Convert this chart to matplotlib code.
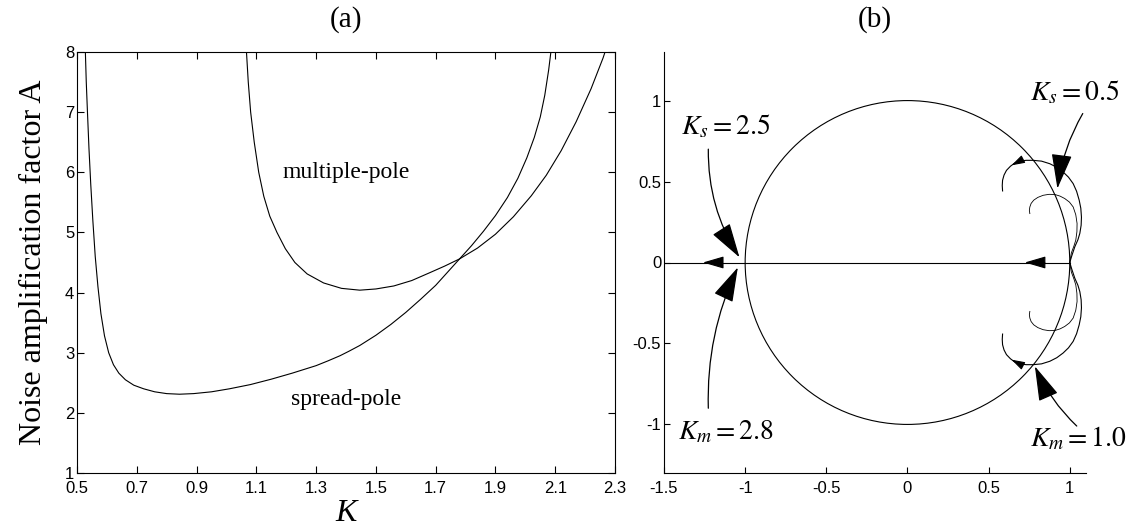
import numpy as np
import matplotlib
matplotlib.use("Agg")
import matplotlib.pyplot as plt
from matplotlib.patches import Circle

plt.rcParams['font.family'] = ['Liberation Sans', 'DejaVu Sans']
plt.rcParams['mathtext.fontset'] = 'stix'

# (a) noise amplification factor vs K
k_spread = [0.528, 0.531, 0.535, 0.540, 0.546, 0.553, 0.561, 0.570, 0.580, 0.592, 0.606, 0.622,
            0.640, 0.662, 0.690, 0.723, 0.76, 0.80, 0.843, 0.89, 0.95, 1.01, 1.08, 1.15,
            1.22, 1.30, 1.34, 1.38, 1.41, 1.446, 1.50, 1.55, 1.60, 1.65, 1.70, 1.74, 1.78, 1.82,
            1.86, 1.90, 1.94, 1.975, 2.005, 2.03, 2.05, 2.065, 2.078, 2.088]
a_spread = [8.0, 7.5, 7.0, 6.4, 5.8, 5.2, 4.6, 4.1, 3.65, 3.28, 3.0, 2.8,
            2.66, 2.55, 2.46, 2.40, 2.35, 2.32, 2.31, 2.32, 2.35, 2.40, 2.47, 2.56,
            2.66, 2.785, 2.865, 2.95, 3.025, 3.12, 3.29, 3.47, 3.67, 3.89, 4.12, 4.34, 4.56, 4.78,
            5.02, 5.28, 5.58, 5.90, 6.24, 6.58, 6.92, 7.28, 7.70, 8.10]
k_multi = [1.067, 1.073, 1.081, 1.093, 1.108, 1.125, 1.145, 1.169, 1.197, 1.229, 1.27, 1.325,
           1.385, 1.446, 1.50, 1.56, 1.62, 1.68, 1.73, 1.78, 1.84, 1.90, 1.96, 2.02,
           2.07, 2.12, 2.17, 2.22, 2.26, 2.27]
a_multi = [8.0, 7.5, 7.0, 6.5, 6.0, 5.6, 5.27, 5.0, 4.73, 4.5, 4.31, 4.16,
           4.07, 4.04, 4.06, 4.11, 4.20, 4.33, 4.44, 4.56, 4.74, 4.97, 5.26, 5.61,
           5.95, 6.36, 6.84, 7.39, 7.90, 8.05]

k_ticks = [0.5, 0.7, 0.9, 1.1, 1.3, 1.5, 1.7, 1.9, 2.1, 2.3]
a_ticks = [1, 2, 3, 4, 5, 6, 7, 8]

# (b) pole loci in the z-plane
circle_center = (0.0, 0.0)
circle_radius = 1.0
real_axis_x = [-1.5, 1.0]
real_axis_y = [0.0, 0.0]
outer_x = [1.0, 1.012, 1.031, 1.05, 1.062, 1.07, 1.072, 1.068, 1.058, 1.042, 1.021, 0.992,
           0.959, 0.92, 0.877, 0.826, 0.774, 0.732, 0.692, 0.661, 0.635, 0.61, 0.595, 0.586,
           0.584, 0.586]
outer_y = [0.0, 0.04, 0.097, 0.14, 0.18, 0.23, 0.28, 0.335, 0.385, 0.44, 0.487, 0.527,
           0.559, 0.588, 0.61, 0.626, 0.631, 0.631, 0.627, 0.614, 0.595, 0.569, 0.54, 0.508,
           0.475, 0.442]
inner_x = [1.0, 1.005, 1.01, 1.025, 1.037, 1.044, 1.045, 1.037, 1.021, 0.998, 0.969, 0.94,
           0.908, 0.872, 0.836, 0.803, 0.778, 0.762, 0.754, 0.751, 0.754]
inner_y = [0.0, 0.03, 0.06, 0.10, 0.138, 0.19, 0.241, 0.295, 0.343, 0.373, 0.395, 0.41,
           0.42, 0.421, 0.415, 0.402, 0.385, 0.365, 0.343, 0.322, 0.302]

# small direction arrows: (tail, head)
axis_arrows = [((-1.143, 0.0), (-1.26, 0.0)), ((0.846, 0.0), (0.723, 0.0))]
loop_arrows = [((0.692, 0.627), (0.641, 0.6)), ((0.692, -0.627), (0.641, -0.6))]

# labelled arrows: (text, text position, tail, head, curvature)
notes = [
    (r'$K_s = 2.5$', (-1.12, 0.84), (-1.227, 0.70), (-1.035, 0.032), 0.15),
    (r'$K_m = 2.8$', (-1.12, -1.05), (-1.227, -0.90), (-1.045, -0.030), -0.12),
    (r'$K_s = 0.5$', (1.03, 1.05), (1.08, 0.92), (0.924, 0.457), 0.1),
    (r'$K_m = 1.0$', (1.05, -1.09), (1.043, -1.01), (0.785, -0.641), -0.1),
]

fig = plt.figure(figsize=(11.28, 5.29), dpi=100)
ax1 = fig.add_axes([77 / 1128, 56 / 529, 538 / 1128, 421 / 529])
ax2 = fig.add_axes([664 / 1128, 56 / 529, 422 / 1128, 421 / 529])

serif = 'Liberation Serif'

ax1.plot(k_spread, a_spread, color='k', lw=0.8)
ax1.plot(k_multi, a_multi, color='k', lw=0.8)
ax1.set_xlim(0.5, 2.3)
ax1.set_ylim(1, 8)
ax1.set_xticks(k_ticks)
ax1.set_xticklabels([f'{k:g}' for k in k_ticks])
ax1.set_yticks(a_ticks)
ax1.tick_params(direction='in', top=True, right=True, length=5, labelsize=12)
ax1.tick_params(axis='x', pad=6)
ax1.tick_params(axis='y', pad=2)
ax1.text(1.40, 6.0, 'multiple-pole', family=serif, fontsize=17, ha='center', va='center')
ax1.text(1.40, 2.22, 'spread-pole', family=serif, fontsize=17, ha='center', va='center')
ax1.set_title('(a)', family=serif, fontsize=21, pad=18)
ax1.set_ylabel('Noise amplification factor A', family=serif, fontsize=23, labelpad=12)
ax1.set_xlabel('K', family=serif, style='italic', fontsize=23, labelpad=2)

ax2.add_patch(Circle(circle_center, circle_radius, fill=False, color='k', lw=0.8))
ax2.plot(real_axis_x, real_axis_y, color='k', lw=0.8)
ax2.plot(outer_x, outer_y, color='k', lw=0.8)
ax2.plot(outer_x, [-y for y in outer_y], color='k', lw=0.8)
ax2.plot(inner_x, inner_y, color='k', lw=0.6)
ax2.plot(inner_x, [-y for y in inner_y], color='k', lw=0.6)

for tail, head in axis_arrows:
    ax2.annotate('', xy=head, xytext=tail,
                 arrowprops=dict(arrowstyle='-|>,head_length=1.3,head_width=0.38',
                                 mutation_scale=10, color='k', lw=0.8, shrinkA=0, shrinkB=0))
for tail, head in loop_arrows:
    ax2.annotate('', xy=head, xytext=tail,
                 arrowprops=dict(arrowstyle='-|>,head_length=0.8,head_width=0.25',
                                 mutation_scale=10, color='k', lw=0.8, shrinkA=0, shrinkB=0))
for label, pos, tail, head, rad in notes:
    ax2.text(pos[0], pos[1], label, fontsize=20, ha='center', va='center')
    ax2.annotate('', xy=head, xytext=tail,
                 arrowprops=dict(arrowstyle='-|>,head_length=2.2,head_width=0.65',
                                 connectionstyle=f'arc3,rad={rad}',
                                 mutation_scale=10, color='k', lw=0.9, shrinkA=0, shrinkB=0))

ax2.set_xlim(-1.5, 1.1)
ax2.set_ylim(-1.3, 1.3)
ax2.set_xticks([-1.5, -1, -0.5, 0, 0.5, 1])
ax2.set_xticklabels(['-1.5', '-1', '-0.5', '0', '0.5', '1'])
ax2.set_yticks([-1, -0.5, 0, 0.5, 1])
ax2.set_yticklabels(['-1', '-0.5', '0', '0.5', '1'])
ax2.spines['top'].set_visible(False)
ax2.spines['right'].set_visible(False)
ax2.tick_params(direction='in', length=4, labelsize=12)
ax2.tick_params(axis='x', pad=6)
ax2.tick_params(axis='y', pad=2)
ax2.set_title('(b)', family=serif, fontsize=21, pad=18)

fig.savefig('out.png', dpi=100)
